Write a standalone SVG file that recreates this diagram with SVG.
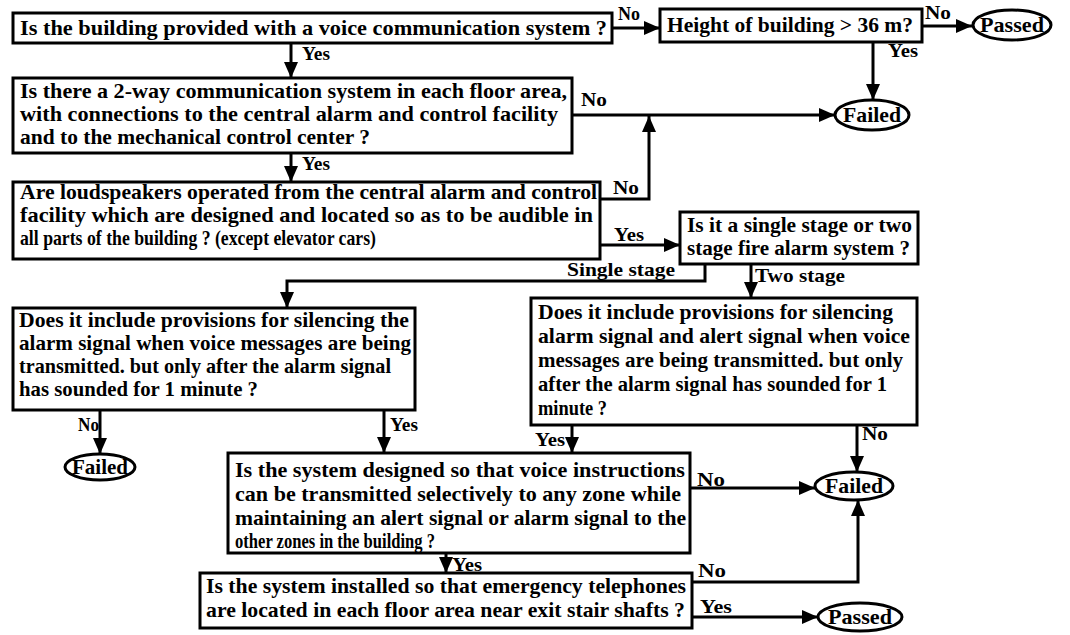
<svg xmlns="http://www.w3.org/2000/svg" width="1070" height="635" viewBox="0 0 1070 635">
  <style>
    .box { fill: #fff; stroke: #000; stroke-width: 3; }
    .term { fill: #fff; stroke: #000; stroke-width: 3; }
    text { font-family: "Liberation Serif", "Times New Roman", serif; font-size: 22px; font-weight: bold; fill: #000; stroke: none; }
    .lbl { font-size: 19px; }
    .mid { text-anchor: middle; }
    .wire { fill: none; stroke: #000; stroke-width: 3; marker-end: url(#arr); }
  </style>
  <defs>
    <marker id="arr" markerUnits="userSpaceOnUse" markerWidth="16" markerHeight="16" viewBox="0 0 16 16" refX="16" refY="8" orient="auto">
      <path d="M0,1 L16,8 L0,15 z" fill="#000"/>
    </marker>
  </defs>
  <rect width="1070" height="635" fill="#fff"/>

  <!-- connectors -->
  <g id="connectors">
    <path class="wire" d="M612,28 H660"/>
    <path class="wire" d="M922,26 H972"/>
    <path class="wire" d="M873,42 V100"/>
    <path class="wire" d="M291,43 V78"/>
    <path class="wire" d="M572,115 H835"/>
    <path class="wire" d="M600,199 H649 V116"/>
    <path class="wire" d="M291,153 V182"/>
    <path class="wire" d="M600,245 H680"/>
    <path class="wire" d="M705,264 V281 H287 V308"/>
    <path class="wire" d="M751,264 V298"/>
    <path class="wire" d="M100,410 V454"/>
    <path class="wire" d="M384,410 V453"/>
    <path class="wire" d="M572,425 V453"/>
    <path class="wire" d="M857,425 V472"/>
    <path class="wire" d="M690,488 H815"/>
    <path class="wire" d="M446,553 V573"/>
    <path class="wire" d="M692,582 H858 V500"/>
    <path class="wire" d="M692,617 H818"/>

    <text class="lbl" x="618" y="20" textLength="22" lengthAdjust="spacingAndGlyphs">No</text>
    <text class="lbl" x="925" y="19" textLength="26" lengthAdjust="spacingAndGlyphs">No</text>
    <text class="lbl" x="888" y="57" textLength="30" lengthAdjust="spacingAndGlyphs">Yes</text>
    <text class="lbl" x="302" y="60" textLength="28" lengthAdjust="spacingAndGlyphs">Yes</text>
    <text class="lbl" x="581" y="106" textLength="26" lengthAdjust="spacingAndGlyphs">No</text>
    <text class="lbl" x="613" y="194" textLength="26" lengthAdjust="spacingAndGlyphs">No</text>
    <text class="lbl" x="302" y="170" textLength="28" lengthAdjust="spacingAndGlyphs">Yes</text>
    <text class="lbl" x="614" y="241" textLength="30" lengthAdjust="spacingAndGlyphs">Yes</text>
    <text class="lbl" x="567" y="276" textLength="108" lengthAdjust="spacingAndGlyphs">Single stage</text>
    <text class="lbl" x="755" y="282" textLength="90" lengthAdjust="spacingAndGlyphs">Two stage</text>
    <text class="lbl" x="78" y="431" textLength="21" lengthAdjust="spacingAndGlyphs">No</text>
    <text class="lbl" x="390" y="431" textLength="28" lengthAdjust="spacingAndGlyphs">Yes</text>
    <text class="lbl" x="535" y="446" textLength="30" lengthAdjust="spacingAndGlyphs">Yes</text>
    <text class="lbl" x="862" y="440" textLength="26" lengthAdjust="spacingAndGlyphs">No</text>
    <text class="lbl" x="697" y="486" textLength="28" lengthAdjust="spacingAndGlyphs">No</text>
    <text class="lbl" x="452" y="571" textLength="30" lengthAdjust="spacingAndGlyphs">Yes</text>
    <text class="lbl" x="698" y="577" textLength="28" lengthAdjust="spacingAndGlyphs">No</text>
    <text class="lbl" x="700" y="613" textLength="32" lengthAdjust="spacingAndGlyphs">Yes</text>
  </g>

  <!-- decision: voice communication system -->
  <g id="q-voice">
    <rect class="box" x="13" y="13" width="599" height="30"/>
    <text x="20" y="35" textLength="587" lengthAdjust="spacingAndGlyphs">Is the building provided with a voice communication system ?</text>
  </g>

  <!-- decision: building height -->
  <g id="q-height">
    <rect class="box" x="660" y="9" width="262" height="33"/>
    <text x="667" y="32" textLength="246" lengthAdjust="spacingAndGlyphs">Height of building &gt; 36 m?</text>
  </g>

  <g id="passed-top">
    <ellipse class="term" cx="1012" cy="25" rx="39" ry="15"/>
    <text class="mid" x="1012" y="32" textLength="64" lengthAdjust="spacingAndGlyphs">Passed</text>
  </g>

  <g id="failed-top">
    <ellipse class="term" cx="872" cy="115" rx="37" ry="15"/>
    <text class="mid" x="872" y="122" textLength="58" lengthAdjust="spacingAndGlyphs">Failed</text>
  </g>

  <!-- decision: two-way communication -->
  <g id="q-twoway">
    <rect class="box" x="13" y="78" width="559" height="75"/>
    <text x="20" y="98" textLength="547" lengthAdjust="spacingAndGlyphs">Is there a 2-way communication system in each floor area,</text>
    <text x="20" y="121" textLength="538" lengthAdjust="spacingAndGlyphs">with connections to the central alarm and control facility</text>
    <text x="20" y="144" textLength="350" lengthAdjust="spacingAndGlyphs">and to the mechanical control center ?</text>
  </g>

  <!-- decision: loudspeakers -->
  <g id="q-speakers">
    <rect class="box" x="13" y="182" width="587" height="77"/>
    <text x="20" y="199" textLength="577" lengthAdjust="spacingAndGlyphs">Are loudspeakers operated from the central alarm and control</text>
    <text x="20" y="222" textLength="573" lengthAdjust="spacingAndGlyphs">facility which are designed and located so as to be audible in</text>
    <text x="20" y="245" textLength="356" lengthAdjust="spacingAndGlyphs">all parts of the building ? (except elevator cars)</text>
  </g>

  <!-- decision: alarm stages -->
  <g id="q-stages">
    <rect class="box" x="680" y="212" width="238" height="52"/>
    <text x="687" y="232" textLength="225" lengthAdjust="spacingAndGlyphs">Is it a single stage or two</text>
    <text x="687" y="255" textLength="223" lengthAdjust="spacingAndGlyphs">stage fire alarm system ?</text>
  </g>

  <!-- decision: single stage silencing -->
  <g id="q-single">
    <rect class="box" x="13" y="308" width="402" height="102"/>
    <text x="19" y="327" textLength="390" lengthAdjust="spacingAndGlyphs">Does it include provisions for silencing the</text>
    <text x="19" y="350" textLength="392" lengthAdjust="spacingAndGlyphs">alarm signal when voice messages are being</text>
    <text x="19" y="373" textLength="372" lengthAdjust="spacingAndGlyphs">transmitted. but only after the alarm signal</text>
    <text x="19" y="396" textLength="239" lengthAdjust="spacingAndGlyphs">has sounded for 1 minute ?</text>
  </g>

  <!-- decision: two stage silencing -->
  <g id="q-two">
    <rect class="box" x="531" y="298" width="386" height="127"/>
    <text x="538" y="319" textLength="355" lengthAdjust="spacingAndGlyphs">Does it include provisions for silencing</text>
    <text x="538" y="343" textLength="372" lengthAdjust="spacingAndGlyphs">alarm signal and alert signal when voice</text>
    <text x="538" y="367" textLength="365" lengthAdjust="spacingAndGlyphs">messages are being transmitted. but only</text>
    <text x="538" y="391" textLength="349" lengthAdjust="spacingAndGlyphs">after the alarm signal has sounded for 1</text>
    <text x="538" y="415" textLength="69" lengthAdjust="spacingAndGlyphs">minute ?</text>
  </g>

  <g id="failed-left">
    <ellipse class="term" cx="100" cy="467" rx="35" ry="13"/>
    <text class="mid" x="100" y="474" textLength="56" lengthAdjust="spacingAndGlyphs">Failed</text>
  </g>

  <!-- decision: selective zones -->
  <g id="q-zones">
    <rect class="box" x="228" y="453" width="462" height="100"/>
    <text x="235" y="477" textLength="450" lengthAdjust="spacingAndGlyphs">Is the system designed so that voice instructions</text>
    <text x="235" y="501" textLength="446" lengthAdjust="spacingAndGlyphs">can be transmitted selectively to any zone while</text>
    <text x="235" y="525" textLength="451" lengthAdjust="spacingAndGlyphs">maintaining an alert signal or alarm signal to the</text>
    <text x="235" y="548" textLength="200" lengthAdjust="spacingAndGlyphs">other zones in the building ?</text>
  </g>

  <g id="failed-right">
    <ellipse class="term" cx="854" cy="486" rx="39" ry="14"/>
    <text class="mid" x="854" y="493" textLength="58" lengthAdjust="spacingAndGlyphs">Failed</text>
  </g>

  <!-- decision: emergency telephones -->
  <g id="q-phones">
    <rect class="box" x="200" y="573" width="492" height="55"/>
    <text x="206" y="593" textLength="480" lengthAdjust="spacingAndGlyphs">Is the system installed so that emergency telephones</text>
    <text x="206" y="617" textLength="479" lengthAdjust="spacingAndGlyphs">are located in each floor area near exit stair shafts ?</text>
  </g>

  <g id="passed-bottom">
    <ellipse class="term" cx="860" cy="617" rx="42" ry="14"/>
    <text class="mid" x="860" y="624" textLength="64" lengthAdjust="spacingAndGlyphs">Passed</text>
  </g>
</svg>
